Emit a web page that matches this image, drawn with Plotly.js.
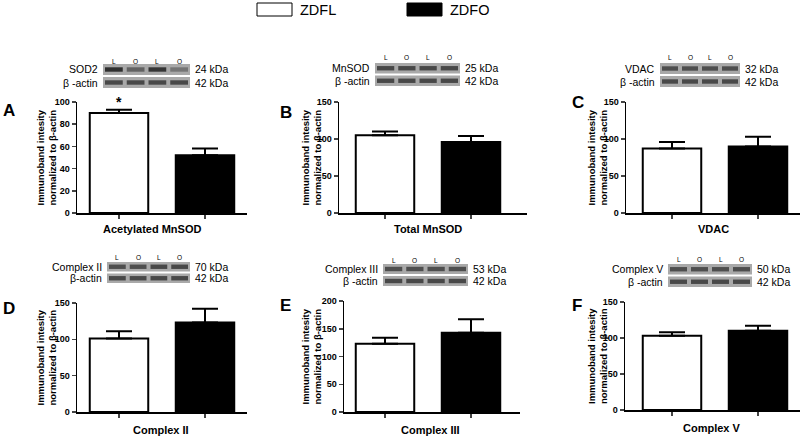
<!DOCTYPE html>
<html>
<head>
<meta charset="utf-8">
<script src="https://cdn.plot.ly/plotly-3.0.1.min.js"></script>
<style>
  body { margin: 0; background: #fff; }
  #chart { width: 800px; height: 436px; }
</style>
</head>
<body>
<div id="chart"></div>
<script>
// groups and panel data
var groups = ['ZDFL', 'ZDFO'];
var panelLetters = ['A', 'B', 'C', 'D', 'E', 'F'];
var panelTitles = ['Acetylated MnSOD', 'Total MnSOD', 'VDAC', 'Complex II', 'Complex III', 'Complex V'];
var meanA = [90, 52];   var semA = [3, 6];
var meanB = [105, 96];  var semB = [5, 8];
var meanC = [87, 90];   var semC = [9, 13];
var meanD = [101, 123]; var semD = [10, 19];
var meanE = [123, 143]; var semE = [11, 24];
var meanF = [103, 110]; var semF = [5, 7];
var yMax = [100, 150, 150, 150, 200, 150];
var yStep = [20, 50, 50, 50, 50, 50];
var yTitle = 'Immunoband intesity<br>normalized to β-actin';
var blotProteins = ['SOD2', 'MnSOD', 'VDAC', 'Complex II', 'Complex III', 'Complex V'];
var blotKda = ['24 kDa', '25 kDa', '32 kDa', '70 kDa', '53 kDa', '50 kDa'];
var actinLabels = ['β -actin', 'β -actin', 'β -actin', 'β-actin', 'β -actin', 'β -actin'];
var laneLabels = ['L', 'O', 'L', 'O'];

var means = [meanA, meanB, meanC, meanD, meanE, meanF];
var sems = [semA, semB, semC, semD, semE, semF];

var W = 800, H = 436;
function px(x) { return x / W; }
function py(y) { return 1 - y / H; }

// panel geometry in pixels
var axLeft = [77, 339, 626, 77, 344, 625];
var axRight = [247, 527, 800, 247, 520, 800];
var axTop = [102, 102, 102, 303, 301, 302];
var axBottom = [213, 213, 213, 412, 412, 410];
var tick0 = [119, 385, 672, 119, 385, 672];
var unitPx = 86;
var yTitleX = [46, 311, 597, 46, 311, 597];
var titleX = [152, 428, 713, 161, 430, 712];
var titleY = [229, 229, 229, 430, 430, 428];
var letterX = [1, 278, 570, 1, 278, 570];
var letterY = [111, 112, 103, 308, 305, 305];

// blot boxes in pixels
var blotX0 = [103, 375, 660, 107, 383, 668];
var blotX1 = [190, 460, 740, 190, 468, 752];
var blotY0 = [64, 63, 63, 262, 264, 264];
var blotY1 = [88, 86, 87, 283, 286, 287];
var laneY = [61, 58, 57, 257, 260, 259];
var topBand = [[0.95, 0.55, 0.9, 0.4], [0.75, 0.75, 0.75, 0.75], [0.7, 0.7, 0.7, 0.7],
               [0.7, 0.7, 0.75, 0.75], [0.7, 0.7, 0.7, 0.7], [0.7, 0.7, 0.7, 0.7]];

var fontFam = 'Liberation Sans, Arial, sans-serif';
var data = [];
var layout = {
    width: W,
    height: H,
    margin: {t: 0, r: 0, b: 0, l: 0},
    paper_bgcolor: 'white',
    plot_bgcolor: 'white',
    showlegend: false,
    font: {family: fontFam, color: 'black'},
    shapes: [],
    annotations: []
};

function note(x, y, text, size, opts) {
    let a = {
        xref: 'paper', yref: 'paper',
        x: px(x), y: py(y),
        xanchor: 'center', yanchor: 'middle',
        text: text,
        showarrow: false,
        font: {size: size, color: 'black'}
    };
    for (let k in opts) a[k] = opts[k];
    layout.annotations.push(a);
}

for (let i = 0; i < 6; i++) {
    let n = i === 0 ? '' : String(i + 1);
    let xa = 'x' + n, ya = 'y' + n;
    let xLo = (axLeft[i] - tick0[i]) / unitPx;
    let xHi = (axRight[i] - tick0[i]) / unitPx;

    data.push({
        type: 'bar',
        x: [0, 1],
        y: means[i],
        width: 0.68,
        xaxis: xa,
        yaxis: ya,
        marker: {color: ['white', 'black'], line: {color: 'black', width: 2}},
        error_y: {
            type: 'data',
            symmetric: false,
            array: sems[i],
            arrayminus: [0, 0],
            color: 'black',
            thickness: 2,
            width: 13
        },
        hoverinfo: 'skip'
    });

    layout['xaxis' + n] = {
        domain: [px(axLeft[i]), px(axRight[i])],
        range: [xLo, xHi],
        anchor: ya,
        tickvals: [0, 1],
        showticklabels: false,
        ticks: 'outside',
        ticklen: 4,
        tickwidth: 1.5,
        showline: true,
        linecolor: 'black',
        linewidth: 1.5,
        showgrid: false,
        zeroline: false,
        fixedrange: true
    };
    layout['yaxis' + n] = {
        domain: [py(axBottom[i]), py(axTop[i])],
        range: [0, yMax[i]],
        dtick: yStep[i],
        anchor: xa,
        ticks: 'outside',
        ticklen: 4,
        tickwidth: 1.5,
        showline: true,
        linecolor: 'black',
        linewidth: 1.5,
        showgrid: false,
        zeroline: false,
        tickfont: {size: 9, family: fontFam, weight: 'bold'},
        fixedrange: true
    };

    // y title, x title and panel letter
    note(yTitleX[i], (axTop[i] + axBottom[i]) / 2, '<b>' + yTitle + '</b>', 9.5, {textangle: -90});
    note(titleX[i], titleY[i], '<b>' + panelTitles[i] + '</b>', 11);
    note(letterX[i], letterY[i], '<b>' + panelLetters[i] + '</b>', 17, {xanchor: 'left'});

    // western blot strip
    let bx0 = blotX0[i], bx1 = blotX1[i], by0 = blotY0[i], by1 = blotY1[i];
    let mid = (by0 + by1) / 2;
    let rows = [[by0, mid - 1], [mid + 1, by1]];
    let laneW = (bx1 - bx0) / 4;
    rows.forEach(function (r, ri) {
        let c = (r[0] + r[1]) / 2;
        layout.shapes.push({
            type: 'rect', xref: 'paper', yref: 'paper',
            x0: px(bx0), x1: px(bx1), y0: py(r[1]), y1: py(r[0]),
            fillcolor: '#a9a9a9', line: {width: 0}
        });
        for (let k = 0; k < 4; k++) {
            let a = ri === 0 ? topBand[i][k] : 0.75;
            layout.shapes.push({
                type: 'rect', xref: 'paper', yref: 'paper',
                x0: px(bx0 + laneW * k + 2), x1: px(bx0 + laneW * (k + 1) - 2),
                y0: py(c + 2.2), y1: py(c - 2.2),
                fillcolor: 'rgba(40,40,40,' + a + ')', line: {width: 0}
            });
        }
        note(bx0 - 3, c, ri === 0 ? blotProteins[i] : actinLabels[i], 10.5, {xanchor: 'right'});
        note(bx1 + 3, c, ri === 0 ? blotKda[i] : '42 kDa', 10.5, {xanchor: 'left'});
    });
    for (let k = 0; k < 4; k++) {
        note(bx0 + laneW * (k + 0.5), laneY[i], laneLabels[k], 6.5);
    }
}

// significance star on panel A, over the ZDFL bar
note(tick0[0], 102, '<b>*</b>', 14);

// top legend
var legendBoxX = [257, 407];
var legendFill = ['white', 'black'];
for (let g = 0; g < groups.length; g++) {
    layout.shapes.push({
        type: 'rect', xref: 'paper', yref: 'paper',
        x0: px(legendBoxX[g]), x1: px(legendBoxX[g] + 35),
        y0: py(16), y1: py(3),
        fillcolor: legendFill[g], line: {color: 'black', width: 1}
    });
    note(legendBoxX[g] + 41, 9.5, groups[g], 14.5, {xanchor: 'left'});
}

Plotly.newPlot('chart', data, layout, {staticPlot: true});
</script>
</body>
</html>
